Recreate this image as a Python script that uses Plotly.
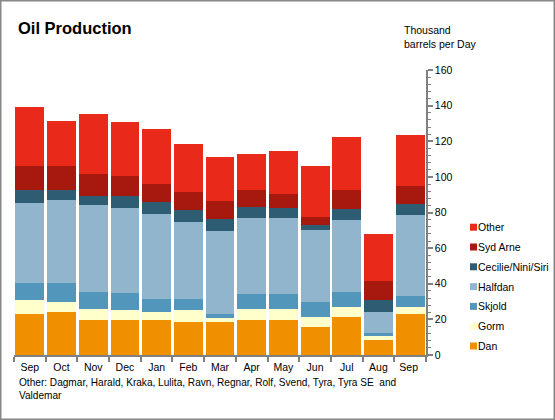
import plotly.graph_objects as go

months = ["Sep", "Oct", "Nov", "Dec", "Jan", "Feb", "Mar", "Apr", "May", "Jun", "Jul", "Aug", "Sep "]

dan      = [23.3, 23.9, 19.9, 19.9, 19.4, 18.8, 18.3, 19.9, 19.9, 16.0, 21.1, 8.7, 22.8]
gorm     = [7.3, 6.1, 5.7, 5.1, 4.5, 6.2, 2.2, 6.2, 5.7, 5.6, 5.6, 1.7, 4.4]
skjold   = [10.1, 10.7, 9.5, 9.6, 7.3, 6.2, 2.3, 7.9, 8.4, 8.4, 8.4, 1.7, 5.7]
halfdan  = [44.4, 46.1, 48.9, 47.7, 47.8, 43.2, 46.6, 42.7, 42.7, 39.9, 40.5, 12.3, 45.5]
cecilie  = [7.3, 6.1, 5.0, 6.7, 6.7, 6.8, 6.7, 6.2, 5.6, 2.9, 6.1, 6.2, 6.2]
syd_arne = [13.5, 13.0, 12.4, 11.3, 10.1, 10.1, 10.1, 10.0, 7.9, 4.4, 11.2, 10.7, 10.1]
other    = [33.1, 25.3, 33.7, 30.3, 30.9, 27.0, 24.8, 19.7, 24.1, 28.7, 29.3, 26.4, 28.6]

series_names = ["Dan", "Gorm", "Skjold", "Halfdan", "Cecilie/Nini/Siri", "Syd Arne", "Other"]
series_values = [dan, gorm, skjold, halfdan, cecilie, syd_arne, other]
series_colors = ["#f09000", "#ffffcc", "#5297bb", "#90b5cc", "#2d5c73", "#a7190e", "#e9291a"]

y_ticks = [0, 20, 40, 60, 80, 100, 120, 140, 160]

title_text = "Oil Production"
unit_text = "Thousand<br>barrels per Day"
note_text = "Other: Dagmar, Harald, Kraka, Lulita, Ravn, Regnar, Rolf, Svend, Tyra, Tyra SE  and<br>Valdemar"

FONT = "Arial, Liberation Sans, sans-serif"
FS = 10.5
W, H = 555, 420
L, R, T, B = 14, 129, 70, 65
PW, PH = W - L - R, H - T - B


def px(x):
    return (x - L) / PW


def py(y):
    return (H - B - y) / PH


fig = go.Figure()
for name, vals, col in zip(series_names, series_values, series_colors):
    fig.add_trace(go.Bar(x=months, y=vals, name=name, marker=dict(color=col, line=dict(width=0)),
                         showlegend=False))

ann = [
    dict(text="<b>" + title_text + "</b>", x=px(16), y=py(28), xref="paper", yref="paper",
         xanchor="left", yanchor="middle", showarrow=False, font=dict(size=16.5, color="black", family=FONT)),
    dict(text=unit_text, x=px(402), y=py(37), xref="paper", yref="paper", align="left",
         xanchor="left", yanchor="middle", showarrow=False, font=dict(size=FS, color="black", family=FONT)),
    dict(text=note_text, x=px(17), y=py(389), xref="paper", yref="paper", align="left",
         xanchor="left", yanchor="middle", showarrow=False, font=dict(size=10.1, color="black", family=FONT)),
]
shapes = [
    dict(type="rect", xref="paper", yref="paper", x0=px(0.5), x1=px(W - 0.5), y0=py(0.5), y1=py(H - 0.5),
         line=dict(color="#888888", width=2), fillcolor="rgba(0,0,0,0)", layer="above"),
]
# custom legend (top = Other, bottom = Dan)
for i, (name, col) in enumerate(zip(series_names, series_colors)):
    cy = 346 - i * 19.8
    shapes.append(dict(type="rect", xref="paper", yref="paper", x0=px(470), x1=px(477),
                       y0=py(cy + 3.5), y1=py(cy - 3.5), fillcolor=col, line=dict(width=0)))
    ann.append(dict(text=name, x=px(476), y=py(cy), xref="paper", yref="paper", xanchor="left",
                    yanchor="middle", showarrow=False, font=dict(size=FS, color="black", family=FONT)))

fig.update_layout(
    width=W, height=H,
    margin=dict(l=L, r=R, t=T, b=B, autoexpand=False),
    barmode="stack", bargap=0.09,
    plot_bgcolor="white", paper_bgcolor="white",
    font=dict(family=FONT, size=FS, color="black"),
    annotations=ann, shapes=shapes,
    xaxis=dict(showgrid=False, showline=True, linecolor="#808080", linewidth=1.5, automargin=False,
               tickangle=0, ticks="outside", tickson="boundaries", ticklen=5, tickcolor="#808080",
               tickwidth=1.5, ticklabelstandoff=2, tickfont=dict(size=FS, color="black"), fixedrange=True),
    yaxis=dict(side="right", range=[0, 160], tickvals=y_ticks, showgrid=False, zeroline=False,
               showline=True, linecolor="#808080", linewidth=1.5, automargin=False,
               ticks="outside", ticklen=5, tickcolor="#808080", tickwidth=1.5,
               minor=dict(dtick=4, ticks="outside", ticklen=3, tickcolor="#808080", tickwidth=1),
               tickfont=dict(size=FS, color="black"), fixedrange=True),
)

fig.write_html("out.html", config={"displayModeBar": False},
               post_script="document.body.style.margin='0';document.body.style.overflow='hidden';")
